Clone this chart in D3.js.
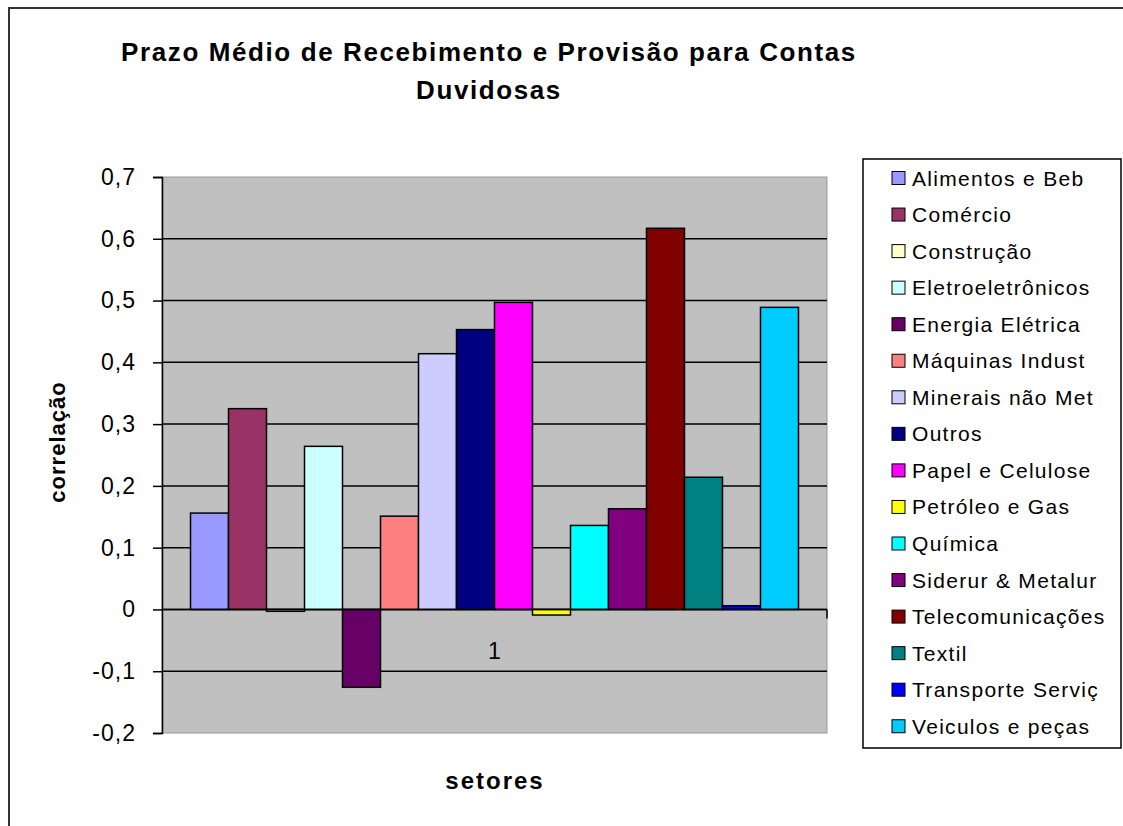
<!DOCTYPE html>
<html lang="pt">
<head>
<meta charset="UTF-8" />
<title>Prazo Médio de Recebimento e Provisão para Contas Duvidosas</title>
<script src="https://cdn.jsdelivr.net/npm/d3@7"></script>
<style>
  body { margin: 0; background: #fff; }
  svg { display: block; font-family: "Liberation Sans", Arial, sans-serif; }
</style>
</head>
<body>
<div id="chart"></div>
<script>
// data
var categories = ["1"];
var setores = ["Alimentos e Beb", "Comércio", "Construção", "Eletroeletrônicos",
  "Energia Elétrica", "Máquinas Indust", "Minerais não Met", "Outros",
  "Papel e Celulose", "Petróleo e Gas", "Química", "Siderur & Metalur",
  "Telecomunicações", "Textil", "Transporte Serviç", "Veiculos e peças"];
var correlacao = [0.156, 0.325, -0.003, 0.264, -0.126, 0.151, 0.414, 0.453,
  0.497, -0.009, 0.136, 0.163, 0.617, 0.214, 0.006, 0.489];
var cores = ["#9999FF", "#993366", "#FFFFCC", "#CCFFFF", "#660066", "#FF8080",
  "#CCCCFF", "#000080", "#FF00FF", "#FFFF00", "#00FFFF", "#800080",
  "#800000", "#008080", "#0000FF", "#00CCFF"];
var yTicks = [-0.2, -0.1, 0, 0.1, 0.2, 0.3, 0.4, 0.5, 0.6, 0.7];

var w = 1123, h = 826;
var plot = { left: 162, top: 177, right: 827, bottom: 733 };

var svg = d3.select("#chart").append("svg")
  .attr("width", w)
  .attr("height", h);

// outer chart border
svg.append("rect")
  .attr("x", 9).attr("y", 8)
  .attr("width", w + 20).attr("height", h + 20)
  .attr("fill", "#fff")
  .attr("stroke", "#333")
  .attr("stroke-width", 2);

// title
var title = svg.append("text")
  .attr("text-anchor", "middle")
  .attr("font-weight", "bold")
  .attr("font-size", 26)
  .attr("letter-spacing", 1.6)
  .attr("fill", "#000");
title.append("tspan").attr("x", 489).attr("y", 61)
  .text("Prazo Médio de Recebimento e Provisão para Contas");
title.append("tspan").attr("x", 489).attr("y", 99)
  .text("Duvidosas");

var yScale = d3.scaleLinear()
  .domain([-0.2, 0.7])
  .range([plot.bottom, plot.top]);

var x0 = d3.scaleBand()
  .domain(categories)
  .range([plot.left, plot.right])
  .paddingInner(0)
  .paddingOuter(0.0469);

var x1 = d3.scaleBand()
  .domain(setores)
  .range([0, x0.bandwidth()])
  .padding(0);

// grey plot area
svg.append("rect")
  .attr("x", plot.left).attr("y", plot.top)
  .attr("width", plot.right - plot.left)
  .attr("height", plot.bottom - plot.top)
  .attr("fill", "#C0C0C0")
  .attr("stroke", "#999")
  .attr("stroke-width", 1);

// gridlines
svg.append("g")
  .selectAll("line")
  .data(yTicks.filter(function(d) { return d > -0.2 && d < 0.7; }))
  .enter().append("line")
  .attr("x1", plot.left).attr("x2", plot.right)
  .attr("y1", function(d) { return yScale(d); })
  .attr("y2", function(d) { return yScale(d); })
  .attr("stroke", "#000")
  .attr("stroke-width", 1.5);

// bars
var bars = setores.map(function(s, i) {
  return { setor: s, value: correlacao[i], cor: cores[i] };
});

svg.append("g")
  .selectAll("rect")
  .data(bars)
  .enter().append("rect")
  .attr("x", function(d) { return x0("1") + x1(d.setor); })
  .attr("width", x1.bandwidth())
  .attr("y", function(d) { return yScale(Math.max(0, d.value)); })
  .attr("height", function(d) { return Math.abs(yScale(d.value) - yScale(0)); })
  .attr("fill", function(d) { return d.cor; })
  .attr("stroke", "#000")
  .attr("stroke-width", 1.5);

// zero (category) axis line
svg.append("line")
  .attr("x1", plot.left).attr("x2", plot.right)
  .attr("y1", yScale(0)).attr("y2", yScale(0))
  .attr("stroke", "#000")
  .attr("stroke-width", 1.5);
svg.append("line")
  .attr("x1", plot.right).attr("x2", plot.right)
  .attr("y1", yScale(0)).attr("y2", yScale(0) + 9)
  .attr("stroke", "#000")
  .attr("stroke-width", 1.5);

// y axis
var yAxis = d3.axisLeft(yScale)
  .tickValues(yTicks)
  .tickSize(9)
  .tickPadding(17)
  .tickFormat(function(d) {
    if (d === 0) return "0";
    return (d < 0 ? "-" : "") + Math.abs(d).toFixed(1).replace(".", ",");
  });

var gy = svg.append("g")
  .attr("transform", "translate(" + plot.left + ",0)")
  .call(yAxis);
gy.select(".domain").attr("stroke", "#000").attr("stroke-width", 1.5);
gy.selectAll(".tick line").attr("stroke", "#000").attr("stroke-width", 1.5);
gy.selectAll(".tick text")
  .attr("font-size", 23)
  .attr("letter-spacing", 1)
  .attr("font-family", "Liberation Sans, Arial, sans-serif")
  .attr("fill", "#000");

// category label
svg.append("text")
  .attr("x", x0("1") + x0.bandwidth() / 2)
  .attr("y", 659)
  .attr("text-anchor", "middle")
  .attr("font-size", 23)
  .text(categories[0]);

// axis titles
svg.append("text")
  .attr("transform", "translate(65,442) rotate(-90)")
  .attr("text-anchor", "middle")
  .attr("font-weight", "bold")
  .attr("font-size", 22)
  .attr("letter-spacing", 1)
  .text("correlação");

svg.append("text")
  .attr("x", 495)
  .attr("y", 789)
  .attr("text-anchor", "middle")
  .attr("font-weight", "bold")
  .attr("font-size", 24)
  .attr("letter-spacing", 2)
  .text("setores");

// legend
var legend = svg.append("g");
legend.append("rect")
  .attr("x", 863).attr("y", 159)
  .attr("width", 258).attr("height", 589)
  .attr("fill", "#fff")
  .attr("stroke", "#000")
  .attr("stroke-width", 1.5);

var items = legend.selectAll("g.item")
  .data(bars)
  .enter().append("g")
  .attr("class", "item")
  .attr("transform", function(d, i) { return "translate(892," + (178 + i * 36.55) + ")"; });

items.append("rect")
  .attr("x", 0).attr("y", -6.5)
  .attr("width", 13).attr("height", 13)
  .attr("fill", function(d) { return d.cor; })
  .attr("stroke", "#000")
  .attr("stroke-width", 1);

items.append("text")
  .attr("x", 20)
  .attr("y", 7.5)
  .attr("font-size", 21)
  .attr("letter-spacing", 1.3)
  .text(function(d) { return d.setor; });
</script>
</body>
</html>
